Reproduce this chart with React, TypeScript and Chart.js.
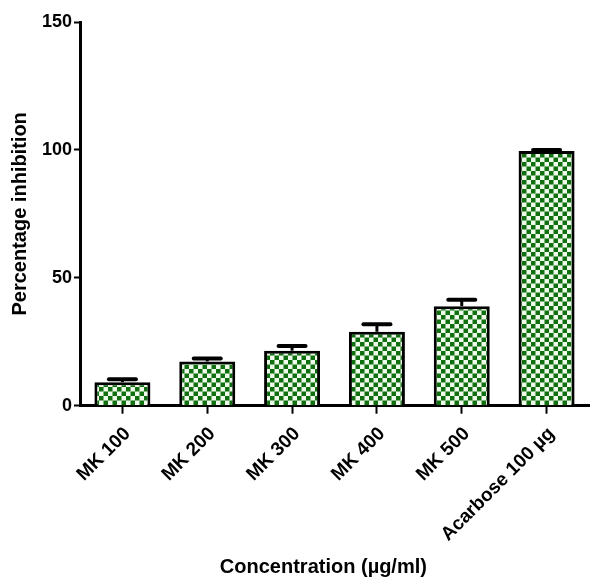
import React, { useEffect, useRef } from "react";
import { Chart, registerables } from "chart.js";

Chart.register(...registerables);

const categories = ["MK 100", "MK 200", "MK 300", "MK 400", "MK 500", "Acarbose 100 µg"];
const means = [9.2, 17.3, 21.5, 28.9, 38.9, 99.6];
const errors = [1.1, 1.2, 1.8, 2.9, 2.5, 0.4];
const yTicks = [0, 50, 100, 150];
const xTitle = "Concentration (µg/ml)";
const yTitle = "Percentage inhibition";

function makeChecker(): CanvasPattern | string {
  const c = document.createElement("canvas");
  c.width = 9;
  c.height = 9;
  const g = c.getContext("2d");
  if (!g) return "#157015";
  g.fillStyle = "#eefaea";
  g.fillRect(0, 0, 9, 9);
  g.fillStyle = "#107010";
  g.fillRect(0, 0, 4.5, 4.5);
  g.fillRect(4.5, 4.5, 4.5, 4.5);
  const p = g.createPattern(c, "repeat");
  return p || "#157015";
}

const errorBarPlugin = {
  id: "errorBars",
  afterDatasetsDraw(chart: any) {
    const ctx = chart.ctx;
    const meta = chart.getDatasetMeta(0);
    const ys = chart.scales.y;
    meta.data.forEach((bar: any, i: number) => {
      const x = bar.x;
      const yTop = ys.getPixelForValue(means[i]);
      const yErr = ys.getPixelForValue(means[i] + errors[i]);
      ctx.save();
      ctx.strokeStyle = "#000";
      ctx.lineWidth = 3;
      ctx.beginPath();
      ctx.moveTo(x, yTop);
      ctx.lineTo(x, yErr);
      ctx.stroke();
      ctx.lineWidth = 4;
      ctx.lineCap = "round";
      ctx.beginPath();
      ctx.moveTo(x - 13.5, yErr);
      ctx.lineTo(x + 13.5, yErr);
      ctx.stroke();
      ctx.restore();
    });
  },
};

export default function App() {
  const ref = useRef<HTMLCanvasElement>(null);
  useEffect(() => {
    document.body.style.margin = "0";
    const canvas = ref.current;
    if (!canvas) return;
    const pattern = makeChecker();
    const chart = new Chart(canvas, {
      type: "bar",
      data: {
        labels: categories,
        datasets: [
          {
            data: means,
            backgroundColor: pattern as any,
            borderColor: "#000",
            borderWidth: 3,
            borderSkipped: "bottom",
            categoryPercentage: 1,
            barPercentage: 0.66,
          },
        ],
      },
      options: {
        responsive: false,
        animation: false,
        devicePixelRatio: 1,
        layout: { padding: { top: 22, right: 9, left: 0, bottom: 0 } },
        plugins: { legend: { display: false }, tooltip: { enabled: false } },
        scales: {
          x: {
            offset: true,
            grid: {
              offset: false,
              drawOnChartArea: false,
              drawTicks: true,
              tickLength: 8,
              tickWidth: 2,
              tickColor: "#000",
            },
            border: { display: true, color: "#000", width: 3 },
            ticks: {
              color: "#000",
              maxRotation: 45,
              minRotation: 45,
              padding: 9,
              labelOffset: 5,
              font: { family: "'Liberation Sans', Arial, sans-serif", weight: "bold", size: 19 },
            },
            title: {
              display: true,
              text: xTitle + "    ",
              color: "#000",
              padding: { top: 0, bottom: 0 },
              font: { family: "'Liberation Sans', Arial, sans-serif", weight: "bold", size: 20, lineHeight: 1 },
            },
            afterFit: (s: any) => {
              s.height = 171.3;
            },
          },
          y: {
            min: 0,
            max: 150,
            afterBuildTicks: (s: any) => {
              s.ticks = yTicks.map((v) => ({ value: v }));
            },
            grid: {
              drawOnChartArea: false,
              drawTicks: true,
              tickLength: 6,
              tickWidth: 2,
              tickColor: "#000",
            },
            border: { display: true, color: "#000", width: 3 },
            ticks: {
              color: "#000",
              padding: 2,
              font: { family: "'Liberation Sans Narrow', 'Liberation Sans', Arial, sans-serif", weight: "bold", size: 18 },
            },
            title: {
              display: true,
              text: yTitle,
              color: "#000",
              padding: { top: 10, bottom: 0 },
              font: { family: "'Liberation Sans', Arial, sans-serif", weight: "bold", size: 20, lineHeight: 1 },
            },
            afterFit: (s: any) => {
              s.width = 80;
            },
          },
        },
      },
      plugins: [errorBarPlugin],
    });
    return () => chart.destroy();
  }, []);
  return (
    <div style={{ width: 598, height: 577, background: "#fff" }}>
      <canvas ref={ref} width={598} height={577} />
    </div>
  );
}
